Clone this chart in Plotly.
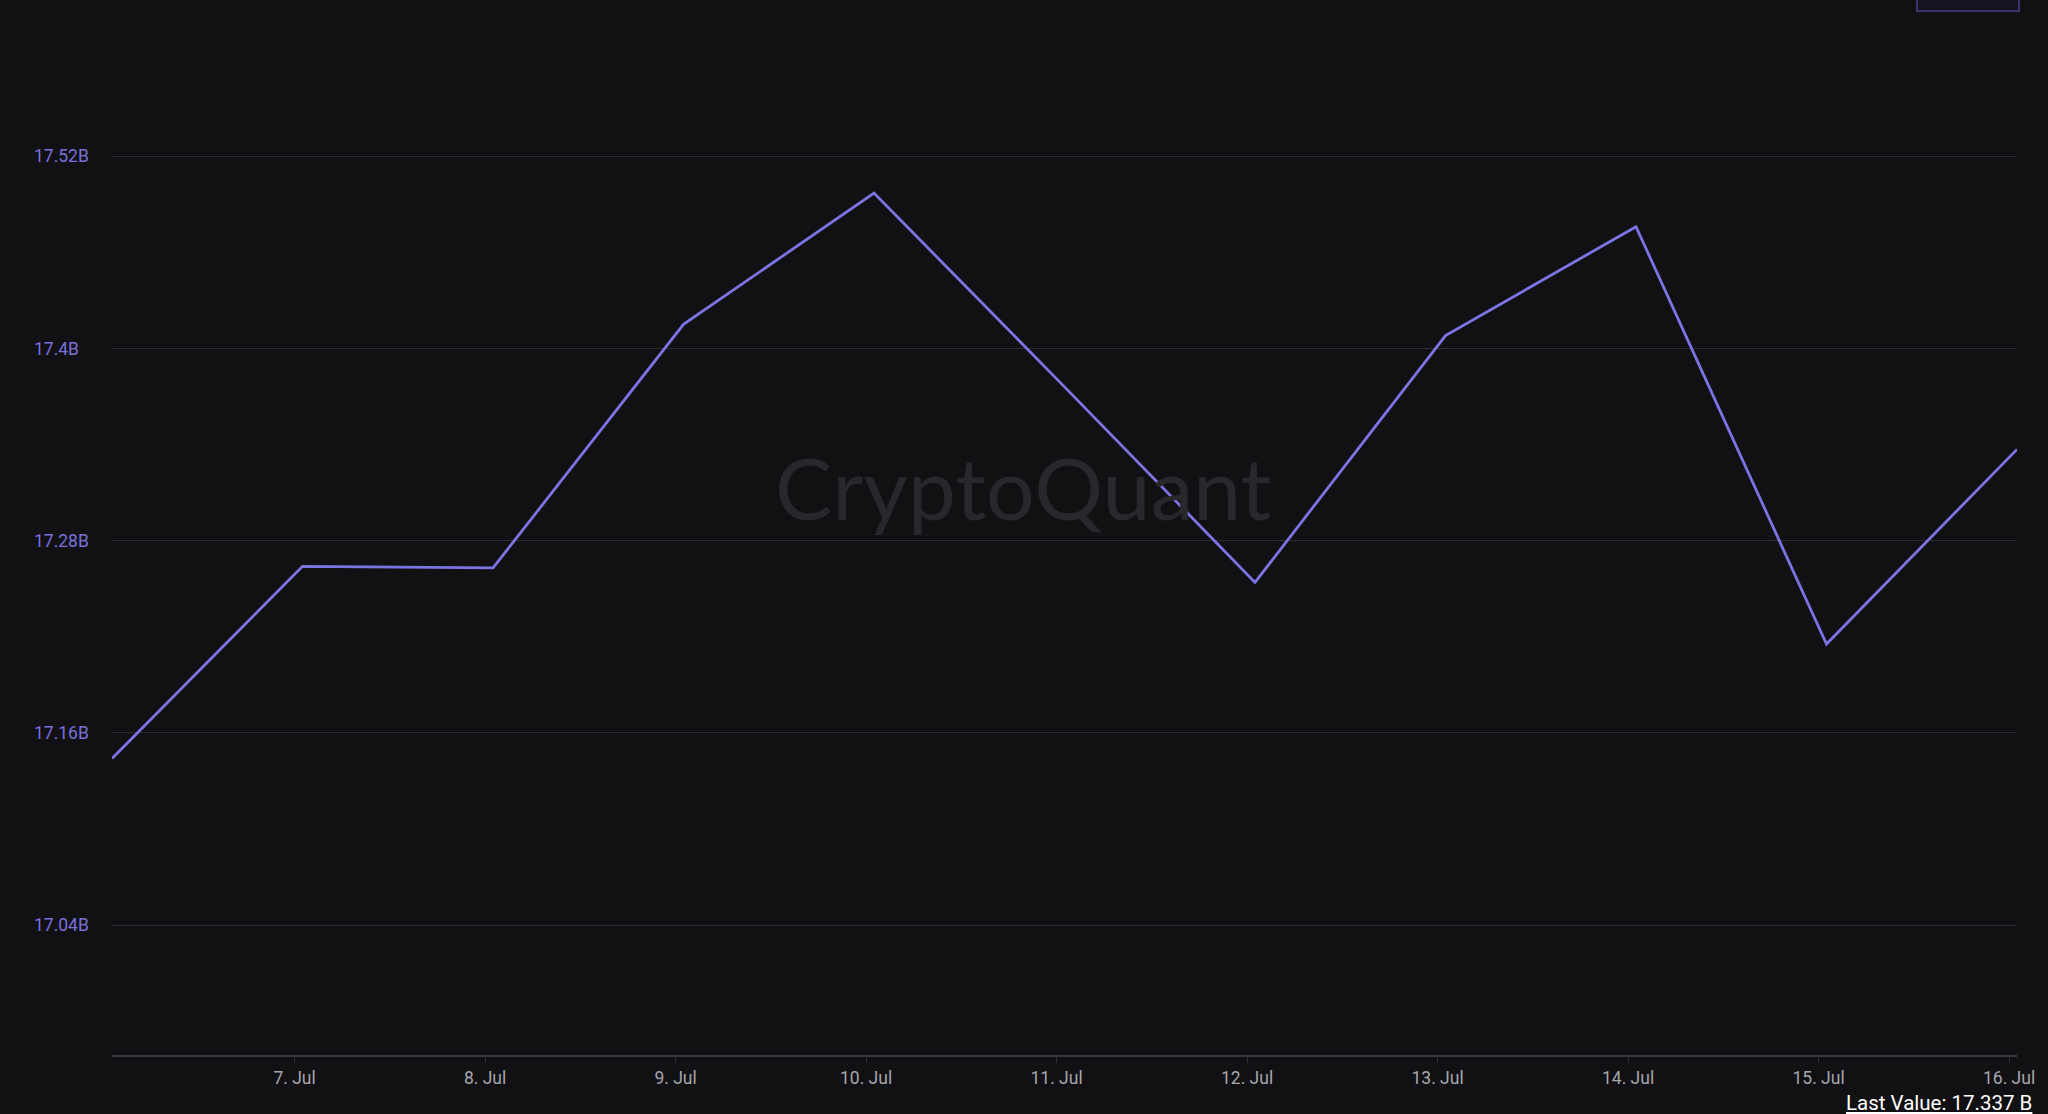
import plotly.graph_objects as go

# ---- data (values in billions) ----
dates = ["2024-07-06 01:00", "2024-07-07 01:00", "2024-07-08 01:00", "2024-07-09 01:00",
         "2024-07-10 01:00", "2024-07-11 01:00", "2024-07-12 01:00", "2024-07-13 01:00",
         "2024-07-14 01:00", "2024-07-15 01:00", "2024-07-16 01:00"]
values = [17.144, 17.264, 17.263, 17.415, 17.497, 17.376, 17.254, 17.408, 17.476, 17.2155, 17.337]
y_ticks = [17.04, 17.16, 17.28, 17.4, 17.52]
x_ticks = ["2024-07-07", "2024-07-08", "2024-07-09", "2024-07-10", "2024-07-11",
           "2024-07-12", "2024-07-13", "2024-07-14", "2024-07-15", "2024-07-16"]
x_ticklabels = ["7. Jul", "8. Jul", "9. Jul", "10. Jul", "11. Jul",
                "12. Jul", "13. Jul", "14. Jul", "15. Jul", "16. Jul"]

W, H = 2048, 1114
ML, MR, MT, MB = 33, 31, 28, 59
plot_w = W - ML - MR
x_dom0 = (112 - ML) / plot_w
y_range = [16.959, 17.6]

BG = "#111113"
LINE = "#7d74e3"

fig = go.Figure()
fig.add_trace(go.Scatter(x=dates, y=values, mode="lines",
                         line=dict(color=LINE, width=2.8), showlegend=False,
                         hoverinfo="skip"))
# invisible trace on the label axis
fig.add_trace(go.Scatter(x=[dates[0]], y=[values[0]], yaxis="y2", mode="markers",
                         marker=dict(opacity=0), showlegend=False, hoverinfo="skip"))

fig.update_layout(
    width=W, height=H,
    margin=dict(l=ML, r=MR, t=MT, b=MB),
    paper_bgcolor=BG, plot_bgcolor=BG,
    font=dict(family="Roboto, Arial, sans-serif"),
    xaxis=dict(
        domain=[x_dom0, 1],
        type="date",
        range=[dates[0], dates[-1]],
        tickvals=x_ticks, ticktext=x_ticklabels,
        showgrid=False, zeroline=False,
        showline=True, linecolor="#3a3a3e", linewidth=1.5,
        ticks="outside", ticklen=6, tickcolor="#2e2e33", tickwidth=1,
        tickfont=dict(size=17.5, color="#a6a6ad"),
    ),
    yaxis=dict(
        range=y_range, tickvals=y_ticks, showticklabels=False,
        showgrid=True, gridcolor="#2c2b36", gridwidth=1.2,
        zeroline=False, showline=False,
    ),
    yaxis2=dict(
        range=y_range, tickvals=y_ticks,
        ticktext=[f"{v:g}B" for v in y_ticks],
        overlaying="y", anchor="free", position=0, side="right",
        showgrid=False, zeroline=False, showline=False, ticks="",
        tickfont=dict(size=17.5, color="#7b70dc"),
    ),
)

# watermark
fig.add_annotation(text="CryptoQuant", xref="paper", yref="paper",
                   x=(1023 - ML) / plot_w, y=(1055 - 486) / (1055 - MT),
                   showarrow=False, xanchor="center", yanchor="middle",
                   font=dict(size=86, color="#28272c", family="Lato, sans-serif"))

# last value label
fig.add_annotation(text=f"<u>Last Value: {values[-1]:.3f} B</u>", xref="paper", yref="paper",
                   x=(2034 - ML) / plot_w, y=(1055 - 1103) / (1055 - MT),
                   showarrow=False, xanchor="right", yanchor="middle",
                   font=dict(size=20.5, color="#ffffff"))

# clipped range button at top right
fig.add_shape(type="rect", xref="paper", yref="paper",
              x0=(1917 - ML) / plot_w, x1=(2019 - ML) / plot_w,
              y0=(1055 - 11) / (1055 - MT), y1=(1055 + 20) / (1055 - MT),
              line=dict(color="#3b3470", width=2), fillcolor="#141320", layer="above")

fig.write_html("out.html", config={"displayModeBar": False},
               post_script="document.body.style.margin='0';document.body.style.background='#111113';")
